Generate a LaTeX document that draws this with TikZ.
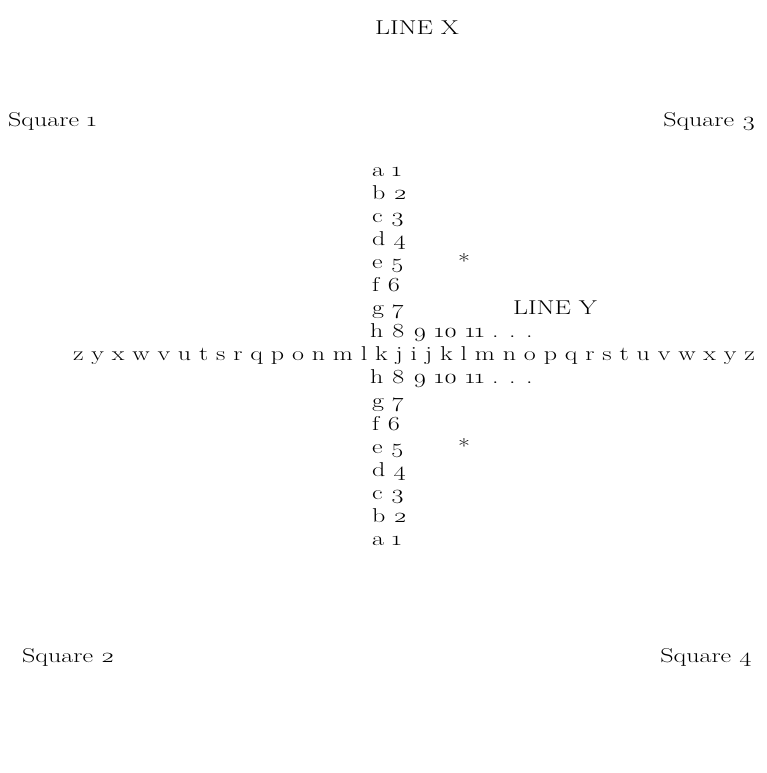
\documentclass[tikz,border=0pt]{standalone}
\usepackage{fontspec}
\setmainfont{Latin Modern Roman}[Numbers=OldStyle, FakeStretch=1.3]
\begin{document}
\begin{tikzpicture}[x=1pt,y=-1pt,
  txt/.style={inner sep=0pt, font=\fontsize{20}{24}\selectfont},
  col/.style={txt, anchor=mid west}]
\useasboundingbox (0,0) rectangle (767,773);
\node[txt, anchor=mid] (linex) at (417,32) {LINE X};
\node[txt, anchor=mid west] (sq1) at (8,124) {Square 1};
\node[txt, anchor=mid east] (sq3) at (756,124) {Square 3};
\node[txt, anchor=mid west] (sq2) at (22,660) {Square 2};
\node[txt, anchor=mid east] (sq4) at (752,660) {Square 4};
\node[col] (ua) at (372,174) {a 1};
\node[col] (ub) at (372,197) {b 2};
\node[col] (uc) at (372,220) {c 3};
\node[col] (ud) at (372,243) {d 4};
\node[col] (ue) at (372,266) {e 5};
\node[col] (uf) at (372,289) {f 6};
\node[col] (ug) at (372,312) {g 7};
\node[col] (uh) at (370,335) {h 8 9 10 11 . . .};
\node[txt, anchor=mid] (row) at (414,358) {z y x w v u t s r q p o n m l k j i j k l m n o p q r s t u v w x y z};
\node[col] (lh) at (370,381) {h 8 9 10 11 . . .};
\node[col] (lg) at (372,405) {g 7};
\node[col] (lf) at (372,428) {f 6};
\node[col] (le) at (372,451) {e 5};
\node[col] (ld) at (372,474) {d 4};
\node[col] (lc) at (372,497) {c 3};
\node[col] (lb) at (372,520) {b 2};
\node[col] (la) at (372,543) {a 1};
\node[col] (stu) at (458,266) {*};
\node[col] (stl) at (458,451) {*};
\node[txt, anchor=mid] (liney) at (555,312) {LINE Y};
\end{tikzpicture}
\end{document}
